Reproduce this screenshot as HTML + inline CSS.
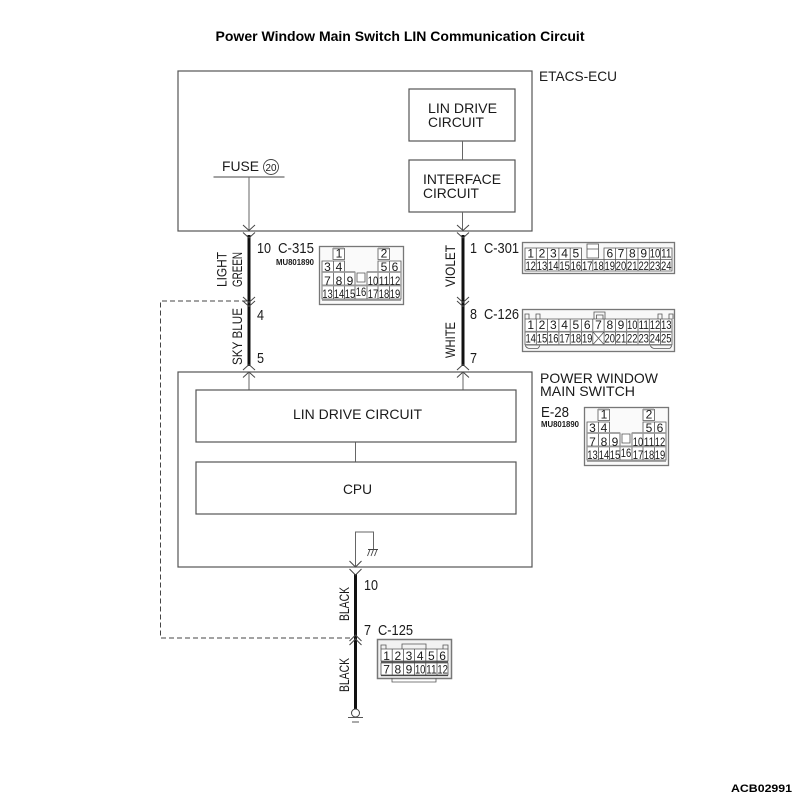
<!DOCTYPE html>
<html><head><meta charset="utf-8"><title>Power Window Main Switch LIN Communication Circuit</title>
<style>
html,body{margin:0;padding:0;background:#fff}
svg{display:block}
text{font-family:"Liberation Sans",sans-serif;fill:#1a1a1a}
.t{font-size:14px}
.n{font-size:15px}
.r{font-size:14px}
.c{font-size:12px;text-anchor:middle}
.b{fill:none;stroke:#555;stroke-width:1.2}
.g{fill:none;stroke:#666;stroke-width:1}
.w{fill:none;stroke:#111;stroke-width:3}
.a{fill:none;stroke:#444;stroke-width:1}
</style></head><body>
<svg width="800" height="798" viewBox="0 0 800 798" xmlns="http://www.w3.org/2000/svg">
<rect width="800" height="798" fill="#fff"/>
<text x="400" y="41" text-anchor="middle" font-size="14" font-weight="bold" style="fill:#000" textLength="369" lengthAdjust="spacingAndGlyphs">Power Window Main Switch LIN Communication Circuit</text>

<!-- ETACS -->
<rect class="b" x="178" y="71" width="354" height="160"/>
<text class="t" x="539" y="81" textLength="78" lengthAdjust="spacingAndGlyphs">ETACS-ECU</text>
<rect class="b" x="409" y="89" width="106" height="52"/>
<text class="t" x="428" y="113" textLength="69" lengthAdjust="spacingAndGlyphs">LIN DRIVE</text>
<text class="t" x="428" y="127" textLength="56" lengthAdjust="spacingAndGlyphs">CIRCUIT</text>
<rect class="b" x="409" y="160" width="106" height="52"/>
<text class="t" x="423" y="184" textLength="78" lengthAdjust="spacingAndGlyphs">INTERFACE</text>
<text class="t" x="423" y="198" textLength="56" lengthAdjust="spacingAndGlyphs">CIRCUIT</text>
<path class="g" d="M462.5 141V160M462.5 212V231"/>
<text class="t" x="222" y="171" textLength="37" lengthAdjust="spacingAndGlyphs">FUSE</text>
<circle cx="271" cy="167" r="7.5" fill="none" stroke="#444" stroke-width="0.9"/>
<text x="271" y="171" font-size="10" text-anchor="middle" textLength="11" lengthAdjust="spacingAndGlyphs">20</text>
<path d="M213.5 177H284.5" stroke="#444" stroke-width="1" fill="none"/>
<path class="g" d="M249 177V231"/>

<!-- Wires -->
<path class="w" d="M249 235V366"/>
<path class="w" d="M463 235V366"/>
<path class="w" d="M355.5 574V711"/>
<path class="g" d="M249 372V390M463 372V390M355.5 442V462M355.5 567V532H373.5V549"/>
<!-- chevrons -->
<path class="a" d="M243 225L249 230.5L255 225M243 232.5L249 238L255 232.5"/>
<path class="a" d="M457 225L463 230.5L469 225M457 232.5L463 238L469 232.5"/>
<path class="a" d="M243 297L249 302.5L255 297M243 301L249 306.5L255 301"/>
<path class="a" d="M457 297L463 302.5L469 297M457 301L463 306.5L469 301"/>
<path class="a" d="M243 370L249 364.5L255 370M243 377.5L249 372L255 377.5"/>
<path class="a" d="M457 370L463 364.5L469 370M457 377.5L463 372L469 377.5"/>
<path class="a" d="M349.5 561L355.5 567L361.5 561M349.5 569L355.5 575L361.5 569"/>
<path class="a" d="M349.5 641L355.5 635L361.5 641M349.5 645L355.5 639L361.5 645"/>
<!-- dashed -->
<path d="M247 301H160.5V638H353" fill="none" stroke="#444" stroke-width="1" stroke-dasharray="5 3"/>
<!-- ground -->
<path d="M368 549.5H378M367.5 556L370 549.5M371 556L373.500 549.5M374.500 556L377 549.5" fill="none" stroke="#444" stroke-width="0.9"/>
<circle cx="355.5" cy="713" r="4" fill="#fff" stroke="#444" stroke-width="1"/>
<path d="M348 717.5H363M352 722H359" fill="none" stroke="#555" stroke-width="1"/>

<!-- rotated labels -->
<text class="r" transform="translate(226.5 287) rotate(-90)" textLength="35" lengthAdjust="spacingAndGlyphs">LIGHT</text>
<text class="r" transform="translate(242 287) rotate(-90)" textLength="35" lengthAdjust="spacingAndGlyphs">GREEN</text>
<text class="r" transform="translate(242 365) rotate(-90)" textLength="57" lengthAdjust="spacingAndGlyphs">SKY BLUE</text>
<text class="r" transform="translate(455 287) rotate(-90)" textLength="42" lengthAdjust="spacingAndGlyphs">VIOLET</text>
<text class="r" transform="translate(455 358) rotate(-90)" textLength="36" lengthAdjust="spacingAndGlyphs">WHITE</text>
<text class="r" transform="translate(349 621) rotate(-90)" textLength="34" lengthAdjust="spacingAndGlyphs">BLACK</text>
<text class="r" transform="translate(349 692) rotate(-90)" textLength="34" lengthAdjust="spacingAndGlyphs">BLACK</text>

<!-- pin labels -->
<text class="n" x="257" y="253" textLength="14" lengthAdjust="spacingAndGlyphs">10</text>
<text class="n" x="278" y="253" textLength="36" lengthAdjust="spacingAndGlyphs">C-315</text>
<text x="276" y="265" font-size="8.5" font-weight="bold" textLength="38" lengthAdjust="spacingAndGlyphs">MU801890</text>
<text class="n" x="257" y="320" textLength="7" lengthAdjust="spacingAndGlyphs">4</text>
<text class="n" x="257" y="363" textLength="7" lengthAdjust="spacingAndGlyphs">5</text>
<text class="n" x="470" y="253" textLength="7" lengthAdjust="spacingAndGlyphs">1</text>
<text class="n" x="484" y="253" textLength="35" lengthAdjust="spacingAndGlyphs">C-301</text>
<text class="n" x="470" y="319" textLength="7" lengthAdjust="spacingAndGlyphs">8</text>
<text class="n" x="484" y="319" textLength="35" lengthAdjust="spacingAndGlyphs">C-126</text>
<text class="n" x="470" y="363" textLength="7" lengthAdjust="spacingAndGlyphs">7</text>
<text class="n" x="364" y="590" textLength="14" lengthAdjust="spacingAndGlyphs">10</text>
<text class="n" x="364" y="635" textLength="7" lengthAdjust="spacingAndGlyphs">7</text>
<text class="n" x="378" y="635" textLength="35" lengthAdjust="spacingAndGlyphs">C-125</text>

<!-- Power window -->
<rect class="b" x="178" y="372" width="354" height="195"/>
<text class="t" x="540" y="383" textLength="118" lengthAdjust="spacingAndGlyphs">POWER WINDOW</text>
<text class="t" x="540" y="396" textLength="95" lengthAdjust="spacingAndGlyphs">MAIN SWITCH</text>
<text class="n" x="541" y="417" textLength="28" lengthAdjust="spacingAndGlyphs">E-28</text>
<text x="541" y="427" font-size="8.5" font-weight="bold" textLength="38" lengthAdjust="spacingAndGlyphs">MU801890</text>
<rect class="b" x="196" y="390" width="320" height="52"/>
<text class="t" x="293" y="419" textLength="129" lengthAdjust="spacingAndGlyphs">LIN DRIVE CIRCUIT</text>
<rect class="b" x="196" y="462" width="320" height="52"/>
<text class="t" x="343" y="494" textLength="29" lengthAdjust="spacingAndGlyphs">CPU</text>

<!-- C-315 -->
<g>
<rect x="319.5" y="246.5" width="84" height="58" fill="#fafafa" stroke="#777" stroke-width="1.3"/>
<path d="M333 248.5h11.5v11h-11.5zM378 248.5h11.5v11h-11.5zM322 261h22.5v11h-22.5zM378 261h23v11h-23zM322 272h33v13h-33zM367 272h34v13h-34zM322 285h33v14h-33zM367 285h34v14h-34zM355 285h12v14h-12zM333.5 261v38M344.5 272v27M378 272v27M389.5 261v38M357 273h8v9h-8z" fill="#fff" stroke="#555" stroke-width="0.8"/>
<path d="M322 272h33M367 272h34M322 285.5h79M322 300h79M333 248.5h11M378 248.5h11" stroke="#999" stroke-width="1.8" fill="none"/>
<text class="c" x="339" y="257.5">1</text><text class="c" x="384" y="257.5">2</text>
<text class="c" x="327.5" y="271">3</text><text class="c" x="339" y="271">4</text><text class="c" x="384" y="271">5</text><text class="c" x="395" y="271">6</text>
<text class="c" x="327.5" y="285">7</text><text class="c" x="339" y="285">8</text><text class="c" x="350" y="285">9</text><text class="c" x="373" y="285" textLength="10.5" lengthAdjust="spacingAndGlyphs">10</text><text class="c" x="384" y="285" textLength="10.5" lengthAdjust="spacingAndGlyphs">11</text><text class="c" x="395" y="285" textLength="10.5" lengthAdjust="spacingAndGlyphs">12</text>
<text class="c" x="327.5" y="298" textLength="10.5" lengthAdjust="spacingAndGlyphs">13</text><text class="c" x="339" y="298" textLength="10.5" lengthAdjust="spacingAndGlyphs">14</text><text class="c" x="350" y="298" textLength="10.5" lengthAdjust="spacingAndGlyphs">15</text><text class="c" x="361" y="296" textLength="10.5" lengthAdjust="spacingAndGlyphs">16</text><text class="c" x="373" y="298" textLength="10.5" lengthAdjust="spacingAndGlyphs">17</text><text class="c" x="384" y="298" textLength="10.5" lengthAdjust="spacingAndGlyphs">18</text><text class="c" x="395" y="298" textLength="10.5" lengthAdjust="spacingAndGlyphs">19</text>
</g>

<!-- E-28 -->
<g transform="translate(265 161)">
<rect x="319.5" y="246.5" width="84" height="58" fill="#fafafa" stroke="#777" stroke-width="1.3"/>
<path d="M333 248.5h11.5v11h-11.5zM378 248.5h11.5v11h-11.5zM322 261h22.5v11h-22.5zM378 261h23v11h-23zM322 272h33v13h-33zM367 272h34v13h-34zM322 285h33v14h-33zM367 285h34v14h-34zM355 285h12v14h-12zM333.5 261v38M344.5 272v27M378 272v27M389.5 261v38M357 273h8v9h-8z" fill="#fff" stroke="#555" stroke-width="0.8"/>
<path d="M322 272h33M367 272h34M322 285.5h79M322 300h79M333 248.5h11M378 248.5h11" stroke="#999" stroke-width="1.8" fill="none"/>
<text class="c" x="339" y="257.5">1</text><text class="c" x="384" y="257.5">2</text>
<text class="c" x="327.5" y="271">3</text><text class="c" x="339" y="271">4</text><text class="c" x="384" y="271">5</text><text class="c" x="395" y="271">6</text>
<text class="c" x="327.5" y="285">7</text><text class="c" x="339" y="285">8</text><text class="c" x="350" y="285">9</text><text class="c" x="373" y="285" textLength="10.5" lengthAdjust="spacingAndGlyphs">10</text><text class="c" x="384" y="285" textLength="10.5" lengthAdjust="spacingAndGlyphs">11</text><text class="c" x="395" y="285" textLength="10.5" lengthAdjust="spacingAndGlyphs">12</text>
<text class="c" x="327.5" y="298" textLength="10.5" lengthAdjust="spacingAndGlyphs">13</text><text class="c" x="339" y="298" textLength="10.5" lengthAdjust="spacingAndGlyphs">14</text><text class="c" x="350" y="298" textLength="10.5" lengthAdjust="spacingAndGlyphs">15</text><text class="c" x="361" y="296" textLength="10.5" lengthAdjust="spacingAndGlyphs">16</text><text class="c" x="373" y="298" textLength="10.5" lengthAdjust="spacingAndGlyphs">17</text><text class="c" x="384" y="298" textLength="10.5" lengthAdjust="spacingAndGlyphs">18</text><text class="c" x="395" y="298" textLength="10.5" lengthAdjust="spacingAndGlyphs">19</text>
</g>

<!-- C-301 -->
<rect x="522.5" y="242.5" width="152" height="31" fill="#f8f8f8" stroke="#777" stroke-width="1.3"/>
<path d="M525 248h56.500v11.500h-56.500zM604 248h68v11.500h-68zM525 259.500h147v11.500h-147z" fill="#fff" stroke="#555" stroke-width="0.8"/>
<path d="M536.300 248v23M547.600 248v23M558.900 248v23M570.200 248v23M581.500 259.500v11.500M592.800 259.500v11.500M604.100 259.500v11.500M615.400 248v23M626.700 248v23M638 248v23M649.300 248v23M660.600 248v23" fill="none" stroke="#555" stroke-width="0.8"/>
<path d="M587 249h11.500v9h-11.500zM587 249v-5h11.500v5" fill="#fff" stroke="#555" stroke-width="0.8"/>
<text class="c" x="530.700" y="257.5">1</text><text class="c" x="542" y="257.5">2</text><text class="c" x="553.300" y="257.5">3</text><text class="c" x="564.600" y="257.5">4</text><text class="c" x="575.900" y="257.5">5</text><text class="c" x="609.800" y="257.500">6</text><text class="c" x="621" y="257.5">7</text><text class="c" x="632.300" y="257.5">8</text><text class="c" x="643.700" y="257.5">9</text><text class="c" x="655" y="257.5" textLength="10.5" lengthAdjust="spacingAndGlyphs">10</text><text class="c" x="666.300" y="257.5" textLength="10.5" lengthAdjust="spacingAndGlyphs">11</text>
<text class="c" x="530.700" y="270" textLength="10.5" lengthAdjust="spacingAndGlyphs">12</text><text class="c" x="542" y="270" textLength="10.5" lengthAdjust="spacingAndGlyphs">13</text><text class="c" x="553.300" y="270" textLength="10.5" lengthAdjust="spacingAndGlyphs">14</text><text class="c" x="564.600" y="270" textLength="10.5" lengthAdjust="spacingAndGlyphs">15</text><text class="c" x="575.900" y="270" textLength="10.5" lengthAdjust="spacingAndGlyphs">16</text><text class="c" x="587.200" y="270" textLength="10.5" lengthAdjust="spacingAndGlyphs">17</text><text class="c" x="598.500" y="270" textLength="10.5" lengthAdjust="spacingAndGlyphs">18</text><text class="c" x="609.800" y="270" textLength="10.5" lengthAdjust="spacingAndGlyphs">19</text><text class="c" x="621" y="270" textLength="10.5" lengthAdjust="spacingAndGlyphs">20</text><text class="c" x="632.300" y="270" textLength="10.5" lengthAdjust="spacingAndGlyphs">21</text><text class="c" x="643.700" y="270" textLength="10.5" lengthAdjust="spacingAndGlyphs">22</text><text class="c" x="655" y="270" textLength="10.5" lengthAdjust="spacingAndGlyphs">23</text><text class="c" x="666.300" y="270" textLength="10.5" lengthAdjust="spacingAndGlyphs">24</text>

<!-- C-126 -->
<rect x="522.5" y="309.5" width="152" height="42" fill="#f8f8f8" stroke="#777" stroke-width="1.3"/>
<path d="M525 319h147v12.500h-147zM525 332h147v12.500h-147z" fill="#fff" stroke="#555" stroke-width="0.8"/>
<path d="M536.300 319v25.500M547.600 319v25.500M558.900 319v25.500M570.200 319v25.500M581.500 319v25.500M592.800 319v25.500M604.100 319v25.500M615.400 319v25.500M626.700 319v25.500M638 319v25.500M649.300 319v25.500M660.600 319v25.500M593 332L604 344.500M604 332L593 344.500M594 319v-7h11v7M596.500 319v-4h6.500v4M525 319v-5h4v5M536 319v-5h4v5M658 319v-5h4v5M669 319v-5h4v5M525 344.500q1 4 5 4h7q2 0 3-4M650 344.500q1 4 5 4h14q2 0 3-4" fill="none" stroke="#555" stroke-width="0.8"/>
<path d="M525 331.500h147M525 345h147" stroke="#888" stroke-width="1.3" fill="none"/>
<text class="c" x="530.700" y="329">1</text><text class="c" x="542" y="329">2</text><text class="c" x="553.300" y="329">3</text><text class="c" x="564.600" y="329">4</text><text class="c" x="575.900" y="329">5</text><text class="c" x="587.200" y="329">6</text><text class="c" x="598.500" y="329">7</text><text class="c" x="609.800" y="329">8</text><text class="c" x="621" y="329">9</text><text class="c" x="632.300" y="329" textLength="10.5" lengthAdjust="spacingAndGlyphs">10</text><text class="c" x="643.700" y="329" textLength="10.5" lengthAdjust="spacingAndGlyphs">11</text><text class="c" x="655" y="329" textLength="10.5" lengthAdjust="spacingAndGlyphs">12</text><text class="c" x="666.300" y="329" textLength="10.5" lengthAdjust="spacingAndGlyphs">13</text>
<text class="c" x="530.700" y="342.5" textLength="10.5" lengthAdjust="spacingAndGlyphs">14</text><text class="c" x="542" y="342.5" textLength="10.5" lengthAdjust="spacingAndGlyphs">15</text><text class="c" x="553.300" y="342.5" textLength="10.5" lengthAdjust="spacingAndGlyphs">16</text><text class="c" x="564.600" y="342.5" textLength="10.5" lengthAdjust="spacingAndGlyphs">17</text><text class="c" x="575.900" y="342.5" textLength="10.5" lengthAdjust="spacingAndGlyphs">18</text><text class="c" x="587.200" y="342.5" textLength="10.5" lengthAdjust="spacingAndGlyphs">19</text><text class="c" x="609.800" y="342.5" textLength="10.5" lengthAdjust="spacingAndGlyphs">20</text><text class="c" x="621" y="342.5" textLength="10.5" lengthAdjust="spacingAndGlyphs">21</text><text class="c" x="632.300" y="342.5" textLength="10.5" lengthAdjust="spacingAndGlyphs">22</text><text class="c" x="643.700" y="342.5" textLength="10.5" lengthAdjust="spacingAndGlyphs">23</text><text class="c" x="655" y="342.5" textLength="10.5" lengthAdjust="spacingAndGlyphs">24</text><text class="c" x="666.300" y="342.5" textLength="10.5" lengthAdjust="spacingAndGlyphs">25</text>

<!-- C-125 -->
<rect x="377.5" y="639.5" width="74" height="39" fill="#f2f2f2" stroke="#777" stroke-width="1.5"/>
<path d="M381 649h67v12h-67zM381 663h67v12h-67z" fill="#fff" stroke="#555" stroke-width="0.8"/>
<path d="M392.200 649v26M403.400 649v26M414.600 649v26M425.800 649v26M437 649v26M392 678v4h44v-4M402 649v-5h24v5M381 649v-4h5v4M443 649v-4h5v4" fill="none" stroke="#555" stroke-width="0.8"/>
<path d="M381 662h67M381 675.500h67" stroke="#444" stroke-width="1.3" fill="none"/>
<text class="c" x="386.600" y="660">1</text><text class="c" x="397.800" y="660">2</text><text class="c" x="409" y="660">3</text><text class="c" x="420.200" y="660">4</text><text class="c" x="431.400" y="660">5</text><text class="c" x="442.600" y="660">6</text>
<text class="c" x="386.600" y="673.5">7</text><text class="c" x="397.800" y="673.5">8</text><text class="c" x="409" y="673.5">9</text><text class="c" x="420.200" y="673.5" textLength="10.5" lengthAdjust="spacingAndGlyphs">10</text><text class="c" x="431.400" y="673.5" textLength="10.5" lengthAdjust="spacingAndGlyphs">11</text><text class="c" x="442.600" y="673.5" textLength="10.5" lengthAdjust="spacingAndGlyphs">12</text>

<text x="731" y="792" font-size="11" font-weight="bold" style="fill:#000" textLength="61" lengthAdjust="spacingAndGlyphs">ACB02991</text>
</svg>
</body></html>
